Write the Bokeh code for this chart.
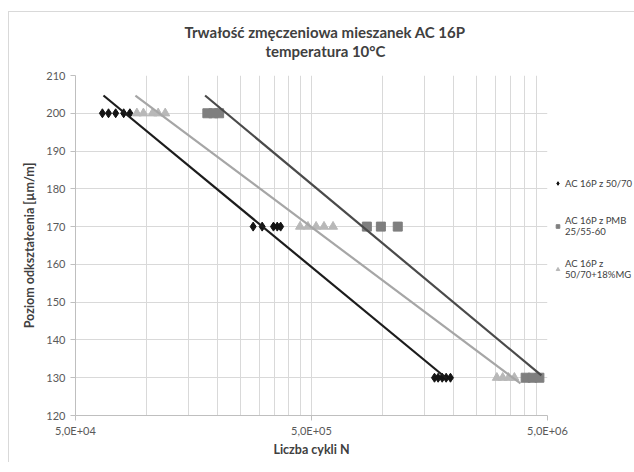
from bokeh.plotting import figure
from bokeh.models import Range1d, FixedTicker, Title, Legend, LegendItem
from bokeh.embed import file_html
from bokeh.resources import INLINE

# ---- data ----
title_lines = ["Trwałość zmęczeniowa mieszanek AC 16P", "temperatura 10°C"]
series_names = ["AC 16P z 50/70", "AC 16P z PMB\n25/55-60", "AC 16P z\n50/70+18%MG"]

# AC 16P z 50/70 (diamonds)
s1_x = [65e3, 69e3, 74e3, 80e3, 85e3,
        283e3, 309e3, 345e3, 358e3, 370e3,
        1.66e6, 1.72e6, 1.79e6, 1.86e6, 1.94e6]
s1_y = [200] * 5 + [170] * 5 + [130] * 5

# AC 16P z PMB 25/55-60 (squares)
s2_x = [181e3, 192e3, 203e3,
        858e3, 984e3, 1.16e6,
        4.04e6, 4.32e6, 4.62e6]
s2_y = [200] * 3 + [170] * 3 + [130] * 3

# AC 16P z 50/70+18%MG (triangles)
s3_x = [91e3, 97e3, 106e3, 112e3, 120e3,
        447e3, 483e3, 523e3, 565e3, 617e3,
        3.05e6, 3.23e6, 3.42e6, 3.62e6]
s3_y = [200] * 5 + [170] * 5 + [130] * 4

# trend lines (end points)
t1_x = [65.7e3, 1.87e6]
t1_y = [204.7, 129.8]
t2_x = [177e3, 4.71e6]
t2_y = [204.7, 130.6]
t3_x = [89.7e3, 3.84e6]
t3_y = [204.7, 128.5]

x_major = [5e4, 5e5, 5e6]
x_major_labels = ["5,0E+04", "5,0E+05", "5,0E+06"]
x_minor = [1e5, 1.5e5, 2e5, 2.5e5, 3e5, 3.5e5, 4e5, 4.5e5,
           1e6, 1.5e6, 2e6, 2.5e6, 3e6, 3.5e6, 4e6, 4.5e6]
y_ticks = [120, 130, 140, 150, 160, 170, 180, 190, 200, 210]

FONT = "Lato"

p = figure(frame_width=472, frame_height=340, output_backend="svg",
           toolbar_location=None, x_axis_type="log",
           x_range=Range1d(5e4, 5e6), y_range=Range1d(120, 210),
           min_border_left=75, min_border_right=87,
           min_border_top=75, min_border_bottom=57)
p.outline_line_color = None
p.background_fill_color = "white"
p.border_fill_alpha = 0
# thin light chart-area frame (left and top edges) behind the transparent canvas border
p.styles = {
    "background": ("linear-gradient(#d9d9d9, #d9d9d9) 8px 11px / 1px 451px no-repeat, "
                   "linear-gradient(#d9d9d9, #d9d9d9) 8px 11px / 626px 1px no-repeat, "
                   "white"),
}

# titles (line 1 on top, line 2 next to the plot)
p.title.text = title_lines[0]
p.title.align = "left"
p.title.offset = 109
p.title.text_font = FONT
p.title.text_font_size = "15px"
p.title.text_font_style = "bold"
p.title.text_color = "#404040"
p.title.standoff = -34
p.add_layout(Title(text=title_lines[1], align="left", offset=190, text_font=FONT,
                   text_font_size="15px", text_font_style="bold",
                   text_color="#404040", standoff=32), "above")

# axes
p.xaxis.ticker = FixedTicker(ticks=x_major, minor_ticks=x_minor)
p.xaxis.major_label_overrides = {v: l for v, l in zip(x_major, x_major_labels)}
p.yaxis.ticker = FixedTicker(ticks=y_ticks)
for ax in (p.xaxis, p.yaxis):
    ax.axis_line_color = "#bfbfbf"
    ax.major_tick_line_color = "#bfbfbf"
    ax.major_tick_out = 5
    ax.major_tick_in = 0
    ax.minor_tick_line_color = None
    ax.major_label_text_font = FONT
    ax.major_label_text_font_size = "11px"
    ax.major_label_text_color = "#595959"
    ax.axis_label_text_font = FONT
    ax.axis_label_text_font_size = "12.5px"
    ax.axis_label_text_font_style = "bold"
    ax.axis_label_text_color = "#404040"
p.xaxis.axis_label = "Liczba cykli N"
p.yaxis.axis_label = "Poziom odkształcenia [µm/m]"
p.xaxis.major_label_standoff = 3
p.xaxis.axis_label_standoff = 2
p.yaxis.major_label_standoff = 5
p.yaxis.axis_label_standoff = 6

# grids
p.xgrid.grid_line_color = "#d9d9d9"
p.xgrid.minor_grid_line_color = "#d9d9d9"
p.ygrid.grid_line_color = "#d9d9d9"

# markers
r1 = p.scatter(s1_x, s1_y, marker="diamond", size=9, color="#141414")
r2 = p.scatter(s2_x, s2_y, marker="square", size=9, color="#7f7f7f")
r3 = p.scatter(s3_x, s3_y, marker="triangle", size=9, color="#b8b8b8")

# trend lines
p.line(t1_x, t1_y, line_color="#1c1c1c", line_width=2.2)
p.line(t2_x, t2_y, line_color="#4a4a4a", line_width=2.2)
p.line(t3_x, t3_y, line_color="#a6a6a6", line_width=2.2)

# legend on the right
legend = Legend(items=[LegendItem(label=n, renderers=[r]) for n, r in
                       zip(series_names, [r1, r2, r3])],
                location=(6, 133), orientation="vertical",
                border_line_color=None, background_fill_alpha=0,
                padding=0, margin=0, spacing=17,
                glyph_width=9, glyph_height=12, label_standoff=3,
                label_text_font=FONT, label_text_font_size="9.5px",
                label_text_line_height=1.35,
                label_text_color="#404040", label_height=26)
p.add_layout(legend, "right")

open("out.html", "w").write(file_html(p, INLINE))
